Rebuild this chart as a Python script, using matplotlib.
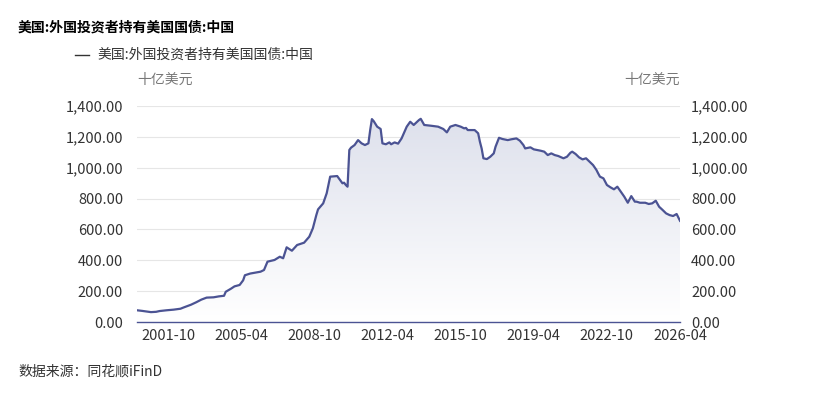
import matplotlib
matplotlib.use('Agg')
import matplotlib.pyplot as plt
import matplotlib.dates as mdates
from matplotlib.ticker import FuncFormatter
from matplotlib.colors import LinearSegmentedColormap
from matplotlib.lines import Line2D
import numpy as np
import pandas as pd

plt.rcParams['font.family'] = ['Noto Sans CJK SC', 'DejaVu Sans']

# China holdings of US Treasuries, billion USD
dates = ['2000-04', '2000-07', '2000-12', '2001-03', '2001-05', '2001-09', '2002-01',
         '2002-05', '2002-07', '2002-11', '2003-02', '2003-05', '2003-08', '2003-12',
         '2004-03', '2004-06', '2004-07', '2004-10', '2004-12', '2005-03', '2005-05',
         '2005-06', '2005-09', '2005-12', '2006-03', '2006-05', '2006-07', '2006-11',
         '2007-02', '2007-04', '2007-06', '2007-09', '2007-12', '2008-04', '2008-07',
         '2008-09', '2008-11', '2008-12', '2009-03', '2009-05', '2009-07', '2009-11',
         '2010-02', '2010-03', '2010-04', '2010-05', '2010-06', '2010-07', '2010-09',
         '2010-11', '2011-01', '2011-03', '2011-05', '2011-06', '2011-07', '2011-08',
         '2011-10', '2011-12', '2012-01', '2012-03', '2012-05', '2012-06', '2012-08',
         '2012-10', '2012-12', '2013-01', '2013-03', '2013-05', '2013-07', '2013-10',
         '2013-11', '2014-01', '2014-05', '2014-09', '2014-12', '2015-02', '2015-04',
         '2015-07', '2015-10', '2015-12', '2016-01', '2016-02', '2016-06', '2016-08',
         '2016-09', '2016-10', '2016-11', '2017-01', '2017-03', '2017-05', '2017-06',
         '2017-08', '2017-10', '2018-01', '2018-03', '2018-06', '2018-08', '2018-10',
         '2018-11', '2019-02', '2019-04', '2019-08', '2019-10', '2019-12', '2020-02',
         '2020-04', '2020-06', '2020-09', '2020-11', '2021-01', '2021-02', '2021-04',
         '2021-06', '2021-08', '2021-10', '2021-12', '2022-02', '2022-04', '2022-05',
         '2022-06', '2022-08', '2022-10', '2022-12', '2023-02', '2023-04', '2023-06',
         '2023-08', '2023-10', '2023-12', '2024-02', '2024-03', '2024-05', '2024-08',
         '2024-10', '2024-12', '2025-02', '2025-04', '2025-06', '2025-08', '2025-10',
         '2025-12', '2026-02', '2026-04']
values = [76, 72, 64, 66, 71, 76, 80,
          86, 95, 112, 128, 145, 158, 160,
          166, 170, 196, 216, 231, 240, 270,
          303, 314, 320, 326, 337, 391, 402,
          423, 413, 484, 462, 499, 514, 553,
          607, 693, 730, 769, 834, 942, 946,
          899, 903, 888, 877, 1115, 1130, 1147,
          1179, 1158, 1147, 1158, 1244, 1315, 1302,
          1266, 1251, 1158, 1152, 1164, 1152, 1164,
          1156, 1190, 1216, 1266, 1298, 1277, 1309,
          1317, 1277, 1272, 1266, 1251, 1229, 1266,
          1277, 1266, 1255, 1258, 1244, 1244, 1223,
          1168, 1125, 1061, 1056, 1071, 1093, 1136,
          1194, 1186, 1179, 1184, 1190, 1175, 1147,
          1125, 1132, 1119, 1110, 1104, 1082, 1093,
          1082, 1076, 1061, 1071, 1097, 1104, 1089,
          1067, 1054, 1061, 1039, 1017, 985, 963,
          942, 931, 888, 873, 860, 877, 844,
          812, 773, 816, 780, 780, 773, 773,
          765, 769, 786, 747, 726, 704, 693,
          687, 700, 656]

tick_labels = ['2001-10', '2005-04', '2008-10', '2012-04', '2015-10',
               '2019-04', '2022-10', '2026-04']

title = '美国:外国投资者持有美国国债:中国'
unit = '十亿美元'
source = '数据来源：同花顺iFinD'

x = pd.to_datetime(dates)
y = np.array(values, dtype=float)

line_color = '#4b5393'
text_color = '#333333'
W, H = 816, 398

fig = plt.figure(figsize=(W / 100, H / 100), dpi=100)
ax = fig.add_axes([137 / W, 1 - 322 / H, (680 - 137) / W, (322 - 106) / H])

ax.set_xlim(x[0], x[-1])
ax.set_ylim(0, 1400)

# gradient fill under the line
xn = mdates.date2num(x)
grad = np.linspace(0, 1, 256).reshape(-1, 1)
cmap = LinearSegmentedColormap.from_list('g', ['#ffffff', '#dcdfeb'])
im = ax.imshow(grad, cmap=cmap, aspect='auto', origin='lower',
               extent=[xn[0], xn[-1], 0, 1400], zorder=1)
poly = ax.fill_between(x, y, 0, color='none')
im.set_clip_path(poly.get_paths()[0], transform=ax.transData)

ax.plot(x, y, color=line_color, linewidth=1.6, zorder=3)

fmt = FuncFormatter(lambda v, p: f'{v:,.2f}')
ax.set_yticks(np.arange(0, 1401, 200))
ax.yaxis.set_major_formatter(fmt)
ax.grid(axis='y', color='#e6e6e6', linewidth=0.8, zorder=0)
ax.set_axisbelow(True)

ax.set_xticks(pd.to_datetime(tick_labels))
ax.set_xticklabels(tick_labels)

for s in ['top', 'right', 'left']:
    ax.spines[s].set_visible(False)
ax.spines['bottom'].set_color(line_color)
ax.spines['bottom'].set_linewidth(1.0)

ax.tick_params(axis='both', length=0, labelsize=10.5, labelcolor=text_color)
ax.tick_params(axis='y', pad=10)
ax.tick_params(axis='x', pad=5)

ax2 = ax.twinx()
ax2.set_ylim(0, 1400)
ax2.set_yticks(np.arange(0, 1401, 200))
ax2.yaxis.set_major_formatter(fmt)
ax2.tick_params(axis='y', length=0, labelsize=10.5, labelcolor=text_color, pad=8)
for s in ax2.spines.values():
    s.set_visible(False)

fig.text(18 / W, 1 - 28 / H, title, fontsize=10, fontweight='bold',
         color='#000000', va='center', ha='left')
fig.add_artist(Line2D([75 / W, 89 / W], [1 - 55 / H, 1 - 55 / H],
                      color=text_color, linewidth=1.0))
fig.text(97 / W, 1 - 55 / H, title, fontsize=10, color=text_color,
         va='center', ha='left')
fig.text(137 / W, 1 - 80 / H, unit, fontsize=10, color='#777777',
         va='center', ha='left')
fig.text(680 / W, 1 - 80 / H, unit, fontsize=10, color='#777777',
         va='center', ha='right')
fig.text(18 / W, 1 - 372 / H, source, fontsize=10, color=text_color,
         va='center', ha='left')

fig.savefig('out.png', dpi=100)
